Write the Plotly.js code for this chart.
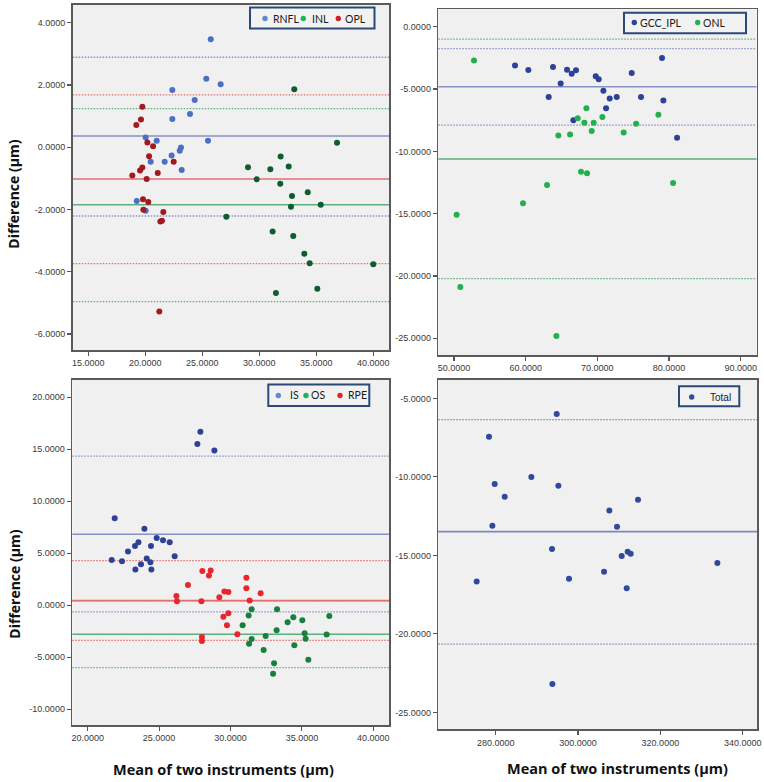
<!DOCTYPE html>
<html>
<head>
<meta charset="utf-8">
<script src="https://cdn.plot.ly/plotly-3.0.1.min.js"></script>
<style>html,body{margin:0;padding:0;background:#fff;}#chart{width:764px;height:782px;}</style>
</head>
<body>
<div id="chart"></div>
<script>
// ---------- data ----------
// Panel A: RNFL / INL / OPL
const rnflX = [25.74,25.35,26.61,22.37,24.33,23.92,22.37,25.50,20.03,21.00,23.13,23.02,22.31,20.47,21.70,23.19,19.25,20.03];
const rnflY = [3.47,2.20,2.02,1.84,1.52,1.07,0.91,0.21,0.31,0.21,-0.01,-0.11,-0.27,-0.47,-0.47,-0.73,-1.73,-2.04];
const inlX = [33.07,36.82,31.87,29.01,30.97,32.58,29.77,31.84,32.87,34.25,32.78,35.39,27.11,31.17,32.98,33.95,34.42,40.00,31.46,35.09];
const inlY = [1.86,0.14,-0.30,-0.64,-0.71,-0.62,-1.03,-1.17,-1.57,-1.45,-1.91,-1.85,-2.23,-2.71,-2.85,-3.42,-3.73,-3.76,-4.68,-4.55];
const oplX = [19.74,19.62,19.21,20.18,20.68,20.33,22.49,19.74,19.54,18.86,21.09,20.12,19.80,20.26,19.83,21.58,21.32,21.46,21.23];
const oplY = [1.30,0.89,0.71,0.15,0.03,-0.29,-0.47,-0.65,-0.75,-0.91,-0.83,-1.02,-1.67,-1.76,-2.01,-2.08,-2.39,-2.36,-5.28];
const linesA = {rnfl:[0.36,2.89,-2.21], inl:[-1.85,1.24,-4.96], opl:[-1.02,1.68,-3.74]}; // mean, upper, lower

// Panel B: GCC_IPL / ONL
const gccX = [58.51,60.37,63.81,65.77,66.42,67.02,64.88,63.21,69.77,70.19,74.79,79.02,70.84,71.72,72.70,76.09,79.21,71.21,66.65,81.12];
const gccY = [-3.10,-3.48,-3.24,-3.45,-3.77,-3.50,-4.55,-5.64,-3.98,-4.22,-3.72,-2.51,-5.13,-5.75,-5.64,-5.64,-5.91,-6.55,-7.51,-8.90];
const onlX = [52.79,50.37,50.88,59.63,62.98,64.28,64.56,66.19,67.26,68.19,68.47,67.72,68.56,69.49,69.21,70.70,73.67,75.40,78.51,80.56];
const onlY = [-2.70,-15.08,-20.88,-14.17,-12.70,-24.81,-8.72,-8.64,-7.35,-7.70,-6.55,-11.63,-11.76,-7.70,-8.37,-7.25,-8.48,-7.78,-7.06,-12.54];
const linesB = {gcc:[-4.81,-1.76,-7.89], onl:[-10.61,-0.99,-20.21]};

// Panel C: IS / OS / RPE
const isX = [27.89,27.68,28.87,21.89,23.97,24.83,25.27,25.74,23.55,23.31,24.43,22.82,26.09,21.68,22.40,24.13,24.39,23.73,23.34,24.46];
const isY = [16.68,15.50,14.89,8.37,7.35,6.48,6.26,6.06,6.06,5.71,5.71,5.17,4.72,4.36,4.23,4.49,4.14,3.95,3.43,3.43];
const rpeX = [28.03,28.61,28.49,27.02,31.11,31.11,26.21,26.25,27.96,29.57,29.85,29.22,31.34,32.11,29.85,29.50,29.75,30.48,28.00,28.00];
const rpeY = [3.30,3.34,2.86,1.96,2.66,1.64,0.90,0.38,0.38,1.32,1.28,0.77,0.45,1.15,-0.77,-1.09,-1.92,-2.79,-3.05,-3.43];
const osX = [31.48,33.26,31.27,36.92,34.40,34.00,35.03,30.85,33.23,32.46,35.19,36.73,35.26,31.48,31.30,34.47,32.32,35.45,33.05,32.98];
const osY = [-0.38,-0.38,-0.99,-1.03,-1.15,-1.64,-1.44,-1.92,-2.41,-2.95,-2.69,-2.82,-3.21,-3.24,-3.69,-3.85,-4.30,-5.23,-5.58,-6.58];
const linesC = {is:[6.83,14.34,-0.64], os:[-2.79,0.42,-6.00], rpe:[0.45,4.30,-3.37]};

// Panel D: Total
const totX = [294.82,278.38,279.76,288.66,295.22,282.19,279.19,307.61,309.47,314.57,293.68,310.61,312.06,312.79,306.32,297.81,311.82,275.38,333.85,293.77];
const totY = [-6.00,-7.44,-10.46,-10.01,-10.56,-11.26,-13.11,-12.15,-13.17,-11.45,-14.60,-15.04,-14.77,-14.89,-16.04,-16.49,-17.10,-16.66,-15.49,-23.20];
const linesD = {tot:[-13.49,-6.36,-20.65]};

// tick values
const xTicksA = [15,20,25,30,35,40], yTicksA = [-6,-4,-2,0,2,4];
const xTicksB = [50,60,70,80,90],    yTicksB = [-25,-20,-15,-10,-5,0];
const xTicksC = [20,25,30,35,40],    yTicksC = [-10,-5,0,5,10,15,20];
const xTicksD = [280,300,320,340],   yTicksD = [-25,-20,-15,-10,-5];

const legendA = ['RNFL','INL','OPL'];
const legendB = ['GCC_IPL','ONL'];
const legendC = ['IS','OS','RPE'];
const legendD = ['Total'];

const xTitle = 'Mean of two instruments (µm)';
const yTitle = 'Difference (µm)';

// ---------- styling ----------
const W = 764, H = 782;
const fx = p => p / W;
const fy = p => 1 - p / H;

const C = {
  rnfl:'#4a6fc4', inl:'#0f5c2e', opl:'#a3191f',
  gcc:'#2d4196', onl:'#22b04c',
  is:'#2d4196', os:'#17803d', rpe:'#e8262b',
  tot:'#2f4a9c'
};
const LEG = {
  rnfl:'#5b8bd0', inl:'#1fb35a', opl:'#cc1f26',
  gcc:'#2d4596', onl:'#22b04c',
  is:'#5b8bd0', os:'#1fb35a', rpe:'#e0262b',
  tot:'#2f4f9e'
};
const LINE = {blue:'#8890c8', green:'#5caf7c', red:'#e46f6f', navy:'#7f87b5'};

function pts(x, y, ax, color) {
  return {type:'scatter', mode:'markers', x:x, y:y, xaxis:'x'+ax, yaxis:'y'+ax,
          marker:{color:color, size:6}, showlegend:false, hoverinfo:'x+y'};
}
const data = [
  pts(rnflX, rnflY, '', C.rnfl), pts(inlX, inlY, '', C.inl), pts(oplX, oplY, '', C.opl),
  pts(gccX, gccY, '2', C.gcc), pts(onlX, onlY, '2', C.onl),
  pts(isX, isY, '3', C.is), pts(rpeX, rpeY, '3', C.rpe), pts(osX, osY, '3', C.os),
  pts(totX, totY, '4', C.tot)
];

const shapes = [];
function refLines(ax, vals, color) {
  // limits of agreement (dotted)
  [vals[1], vals[2]].forEach(v => shapes.push({type:'line', xref:'x'+ax+' domain', yref:'y'+ax,
      x0:0, x1:1, y0:v, y1:v, layer:'below', line:{color:color, width:1.3, dash:'1.5px,1.5px'}}));
}
function meanLine(ax, vals, color) {
  shapes.push({type:'line', xref:'x'+ax+' domain', yref:'y'+ax, x0:0, x1:1, y0:vals[0], y1:vals[0],
      layer:'below', line:{color:color, width:1.6}});
}
refLines('', linesA.rnfl, LINE.blue); refLines('', linesA.inl, LINE.green); refLines('', linesA.opl, LINE.red);
meanLine('', linesA.rnfl, LINE.blue); meanLine('', linesA.inl, LINE.green); meanLine('', linesA.opl, LINE.red);
refLines('2', linesB.gcc, LINE.blue); refLines('2', linesB.onl, LINE.green);
meanLine('2', linesB.gcc, LINE.blue); meanLine('2', linesB.onl, LINE.green);
refLines('3', linesC.is, LINE.blue); refLines('3', linesC.os, LINE.green); refLines('3', linesC.rpe, LINE.red);
meanLine('3', linesC.is, LINE.blue); meanLine('3', linesC.os, LINE.green); meanLine('3', linesC.rpe, LINE.red);
refLines('4', linesD.tot, LINE.navy); meanLine('4', linesD.tot, LINE.navy);

const annotations = [];
// legends drawn as boxes
function legendBox(x0, y0, x1, y1, items, colors, markerX, textX, yc, fontFam, fsize) {
  shapes.push({type:'rect', xref:'paper', yref:'paper', x0:fx(x0), x1:fx(x1), y0:fy(y1), y1:fy(y0),
               fillcolor:'#f2f2f2', line:{color:'#2b4a78', width:2}});
  items.forEach((t, i) => {
    const r = 2.7;
    shapes.push({type:'circle', xref:'paper', yref:'paper', x0:fx(markerX[i]-r), x1:fx(markerX[i]+r),
                 y0:fy(yc+r), y1:fy(yc-r), fillcolor:colors[i], line:{width:0}});
    annotations.push({xref:'paper', yref:'paper', x:fx(textX[i]), y:fy(yc), xanchor:'left', yanchor:'middle',
                      text:t, showarrow:false, font:{family:fontFam, size:fsize, color:'#1a1a1a'}});
  });
}
legendBox(250, 7.5, 374.5, 28.5, legendA, [LEG.rnfl, LEG.inl, LEG.opl], [265, 303.3, 338.3], [270.5, 309.5, 343], 18.5, 'Lato, sans-serif', 10.5);
legendBox(624, 12.7, 746, 33.3, legendB, [LEG.gcc, LEG.onl], [634.3, 697.7], [637.5, 700.5], 22.5, 'Lato, sans-serif', 10.5);
legendBox(268.3, 384.5, 369.3, 406, legendC, [LEG.is, LEG.os, LEG.rpe], [278.3, 306, 340], [287.5, 308.5, 345.5], 395.5, 'Lato, sans-serif', 10.5);
legendBox(679, 386.3, 739.3, 406.3, legendD, [LEG.tot], [691.7], [707.5], 397, '"Liberation Sans", sans-serif', 10);

// axis titles
const titleFont = (s) => ({family:'"Open Sans", sans-serif', size:s, color:'#111', weight:700});
annotations.push({xref:'paper', yref:'paper', x:fx(13.7), y:fy(194), text:'<b>'+yTitle+'</b>', textangle:-90,
                  showarrow:false, xanchor:'center', yanchor:'middle', font:titleFont(14)});
annotations.push({xref:'paper', yref:'paper', x:fx(13.7), y:fy(584), text:'<b>'+yTitle+'</b>', textangle:-90,
                  showarrow:false, xanchor:'center', yanchor:'middle', font:titleFont(14)});
annotations.push({xref:'paper', yref:'paper', x:fx(223), y:fy(769), text:'<b>'+xTitle+'</b>',
                  showarrow:false, xanchor:'center', yanchor:'middle', font:titleFont(14.5)});
annotations.push({xref:'paper', yref:'paper', x:fx(617), y:fy(768), text:'<b>'+xTitle+'</b>',
                  showarrow:false, xanchor:'center', yanchor:'middle', font:titleFont(14.5)});

const tickFont = {family:'"Liberation Sans", Arial, sans-serif', size:9, color:'#3a3a3a'};
function ax(domain, range, ticks, anchor) {
  return {domain:domain, range:range, anchor:anchor, tickmode:'array', tickvals:ticks,
          ticktext:ticks.map(v => v.toFixed(4)), ticks:'outside', ticklen:4, tickwidth:1.2, tickcolor:'#555',
          showline:true, linecolor:'#5a5a5a', linewidth:1.6, mirror:true, showgrid:false, zeroline:false,
          tickfont:tickFont, ticklabeloverflow:'allow', fixedrange:true};
}

const layout = {
  width:W, height:H, autosize:false,
  margin:{l:0, r:0, t:0, b:0, pad:0},
  paper_bgcolor:'#ffffff', plot_bgcolor:'#f0f0f0',
  showlegend:false,
  xaxis:  ax([fx(72.7), fx(389)],  [13.63, 41.38],  xTicksA, 'y'),
  yaxis:  ax([fy(350), fy(4.7)],   [-6.514, 4.578], yTicksA, 'x'),
  xaxis2: ax([fx(438.3), fx(756.5)], [47.81, 92.2], xTicksB, 'y2'),
  yaxis2: ax([fy(355), fy(9.3)],   [-26.34, 1.40],  yTicksB, 'x2'),
  xaxis3: ax([fx(72.3), fx(389)],  [18.92, 41.10],  xTicksC, 'y3'),
  yaxis3: ax([fy(725), fy(379.5)], [-11.51, 21.71], yTicksC, 'x3'),
  xaxis4: ax([fx(438.3), fx(757)], [266.06, 343.47], xTicksD, 'y4'),
  yaxis4: ax([fy(729.3), fy(380)], [-26.08, -3.83], yTicksD, 'x4'),
  shapes:shapes,
  annotations:annotations
};

Plotly.newPlot('chart', data, layout, {displayModeBar:false, staticPlot:true});
</script>
</body>
</html>
